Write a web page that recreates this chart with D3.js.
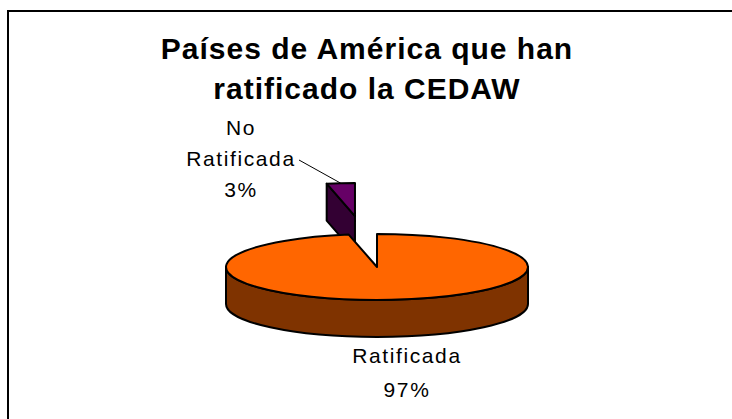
<!DOCTYPE html>
<html>
<head>
<meta charset="utf-8">
<script src="https://cdn.jsdelivr.net/npm/d3@7"></script>
<style>
  html, body { margin: 0; padding: 0; background: #fff; }
  svg { display: block; }
</style>
</head>
<body>
<svg id="chart" width="732" height="419"></svg>
<script>
// ---- data ----
const categories = ["Ratificada", "No Ratificada"];
const values = [97, 3];
const percentLabels = ["97%", "3%"];
const titleLines = ["Países de América que han", "ratificado la CEDAW"];
const topColors = ["#FF6600", "#660066"];
const sideColors = ["#7F3300", "#330033"];
const explodeFrac = [0, 1.55];

// ---- layout ----
const W = 732, H = 419;
const cx = 377, cy = 267, rx = 151, ry = 33, depth = 37;
const FONT = "Arial, 'Liberation Sans', sans-serif";

const svg = d3.select("#chart");

// frame
svg.append("rect")
  .attr("x", 8).attr("y", 11)
  .attr("width", 800).attr("height", 500)
  .attr("fill", "#fff").attr("stroke", "#000").attr("stroke-width", 2);

// title
svg.append("g").selectAll("text").data(titleLines).join("text")
  .attr("x", 367)
  .attr("y", (d, i) => 59 + i * 40)
  .attr("text-anchor", "middle")
  .attr("font-family", FONT)
  .attr("font-weight", "bold")
  .attr("font-size", 30)
  .attr("letter-spacing", 1)
  .attr("fill", "#000")
  .text(d => d);

// pie
const arcs = d3.pie().sort(null).value(d => d)(values);

function pt(a, ox, oy, dz = 0) {
  return [ox + rx * Math.sin(a), oy - ry * Math.cos(a) + dz];
}

const slices = arcs.map((d, i) => {
  const mid = (d.startAngle + d.endAngle) / 2;
  const ox = cx + rx * explodeFrac[i] * Math.sin(mid);
  const oy = cy - ry * explodeFrac[i] * Math.cos(mid);
  return { d, i, mid, ox, oy };
});

function topPath(s) {
  const a0 = s.d.startAngle, a1 = s.d.endAngle;
  const p0 = pt(a0, s.ox, s.oy), p1 = pt(a1, s.ox, s.oy);
  const large = (a1 - a0) > Math.PI ? 1 : 0;
  return `M${s.ox},${s.oy}L${p0[0]},${p0[1]}A${rx},${ry} 0 ${large} 1 ${p1[0]},${p1[1]}Z`;
}

function wallPath(s) {
  const a0 = Math.max(s.d.startAngle, Math.PI / 2);
  const a1 = Math.min(s.d.endAngle, 3 * Math.PI / 2);
  if (a1 <= a0) return null;
  const p0 = pt(a0, s.ox, s.oy), p1 = pt(a1, s.ox, s.oy);
  const q0 = pt(a0, s.ox, s.oy, depth), q1 = pt(a1, s.ox, s.oy, depth);
  return `M${p0[0]},${p0[1]}A${rx},${ry} 0 0 1 ${p1[0]},${p1[1]}` +
         `L${q1[0]},${q1[1]}A${rx},${ry} 0 0 0 ${q0[0]},${q0[1]}Z`;
}

// radial face at the start angle (visible when it faces the viewer)
function startFacePath(s) {
  const a = s.d.startAngle;
  if (-Math.sin(a) <= 0) return null;
  const p = pt(a, s.ox, s.oy);
  return `M${s.ox},${s.oy}L${p[0]},${p[1]}L${p[0]},${p[1] + depth}L${s.ox},${s.oy + depth}Z`;
}

const g = svg.append("g")
  .attr("stroke", "#000").attr("stroke-width", 2).attr("stroke-linejoin", "round");

// draw the exploded (back) slice first, then the main slice
const order = slices.slice().sort((a, b) => a.oy - b.oy);
order.forEach(s => {
  const f = startFacePath(s);
  if (f) g.append("path").attr("d", f).attr("fill", sideColors[s.i]);
  const w = wallPath(s);
  if (w) g.append("path").attr("d", w).attr("fill", sideColors[s.i]);
  g.append("path").attr("d", topPath(s)).attr("fill", topColors[s.i]);
});

// labels
const labelG = svg.append("g")
  .attr("font-family", FONT).attr("font-size", 21)
  .attr("letter-spacing", 1.6).attr("fill", "#000").attr("text-anchor", "middle");

// "No Ratificada 3%"
const small = slices[1];
const smallLines = ["No", "Ratificada", percentLabels[1]];
labelG.append("g").selectAll("text").data(smallLines).join("text")
  .attr("x", 241).attr("y", (d, i) => 135 + i * 31)
  .text(d => d);

// leader line to arc midpoint of the small slice
const lm = pt(small.mid, small.ox, small.oy);
svg.append("line")
  .attr("x1", 299).attr("y1", 160)
  .attr("x2", lm[0]).attr("y2", lm[1])
  .attr("stroke", "#000").attr("stroke-width", 1);

// "Ratificada 97%"
const bigLines = [categories[0], percentLabels[0]];
labelG.append("g").selectAll("text").data(bigLines).join("text")
  .attr("x", 407).attr("y", (d, i) => 363 + i * 34)
  .text(d => d);
</script>
</body>
</html>
